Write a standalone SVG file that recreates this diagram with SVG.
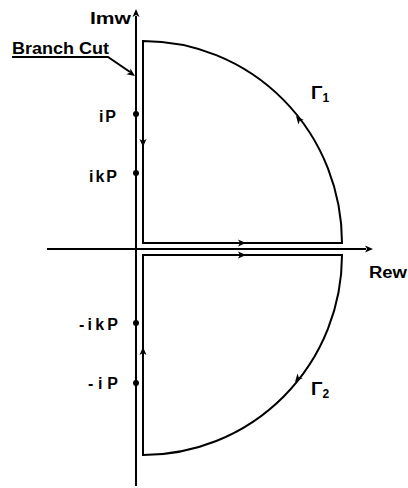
<svg xmlns="http://www.w3.org/2000/svg" width="408" height="488" viewBox="0 0 408 488">
<defs>
<style>
.ln{fill:none;stroke:#000;stroke-width:2;stroke-linecap:square}
.ax{fill:none;stroke:#000;stroke-width:2}
.lb{font-family:"Liberation Sans",Arial,sans-serif;font-weight:bold;font-size:16px;fill:#000}
.gm{font-family:"Liberation Sans",Arial,sans-serif;font-weight:bold;font-size:19px;fill:#000}
.dot{fill:#000}
</style>
<path id="ah" d="M0,0 L-8,-3.5 L-6,0 L-8,3.5 Z" fill="#000"/>
</defs>
<g id="axes" class="connectors">
<line class="ax" x1="47" y1="249" x2="366" y2="249"/>
<use href="#ah" transform="translate(373,249)"/>
<line class="ax" x1="136" y1="486" x2="136" y2="16"/>
<use href="#ah" transform="translate(136,9) rotate(-90)"/>
</g>
<g id="contour1">
<path class="ln" d="M143,243 L342,243 A199,202 0 0 0 143,41 Z"/>
<use href="#ah" transform="translate(246,243)"/>
<use href="#ah" transform="translate(296,116) rotate(-129.7)"/>
<use href="#ah" transform="translate(143,147) rotate(90)"/>
<text class="gm" x="311" y="99">Γ<tspan font-size="12" dy="3">1</tspan></text>
</g>
<g id="contour2">
<path class="ln" d="M143,255 L342,255 A199,200 0 0 1 143,455 Z"/>
<use href="#ah" transform="translate(246,255)"/>
<use href="#ah" transform="translate(295,382) rotate(129.9)"/>
<use href="#ah" transform="translate(143,347) rotate(-90)"/>
<text class="gm" x="311" y="395">Γ<tspan font-size="12" dy="3">2</tspan></text>
</g>
<g id="labels">
<text class="lb" x="90" y="24" textLength="41" lengthAdjust="spacingAndGlyphs">Imw</text>
<text class="lb" x="369" y="278" textLength="38" lengthAdjust="spacingAndGlyphs">Rew</text>
</g>
<g id="branch-cut">
<text class="lb" x="12" y="54" textLength="97" lengthAdjust="spacingAndGlyphs">Branch Cut</text>
<polyline class="ax" points="12,57 108,57 130,72"/>
<use href="#ah" transform="translate(135,76) rotate(34.7)"/>
</g>
<g id="pole-iP">
<circle class="dot" cx="136" cy="114" r="3"/>
<text class="lb" x="99" y="122" textLength="17" lengthAdjust="spacing">iP</text>
</g>
<g id="pole-ikP">
<circle class="dot" cx="136" cy="173" r="3"/>
<text class="lb" x="89" y="182" textLength="28" lengthAdjust="spacing">ikP</text>
</g>
<g id="pole-minus-ikP">
<circle class="dot" cx="136" cy="323" r="3"/>
<text class="lb" x="79" y="330" textLength="39" lengthAdjust="spacing">-ikP</text>
</g>
<g id="pole-minus-iP">
<circle class="dot" cx="136" cy="383" r="3"/>
<text class="lb" x="88" y="389" textLength="30" lengthAdjust="spacing">-iP</text>
</g>
</svg>
